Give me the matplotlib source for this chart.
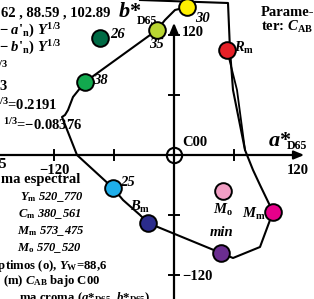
import matplotlib
matplotlib.use("Agg")
import matplotlib.pyplot as plt

plt.rcParams["mathtext.fontset"] = "custom"
plt.rcParams["mathtext.rm"] = "Liberation Serif:bold"
plt.rcParams["mathtext.it"] = "Liberation Serif:italic:bold"
plt.rcParams["mathtext.bf"] = "Liberation Serif:bold"
plt.rcParams["mathtext.default"] = "rm"

# ---- data (a*, b* CIELAB D65) ----
pt_labels = ["26", "35", "30", "R_m", "38", "25", "B_m", "min", "M_m", "M_o"]
pt_a = [-74, -17, 13, 53, -89, -61, -26, 47, 99, 49]
pt_b = [117, 125, 148, 105, 73, -33, -68, -98, -57, -36]
pt_colors = ["#006b45", "#b9d532", "#fff000", "#e62027", "#12a94e",
             "#1eaeea", "#2b2c8c", "#6b2d90", "#e6008a", "#f19ec4"]

# gamut boundary polyline
bnd_a = [-34, 54, 56, 59, 71, 79, 86, 99, 86, 59, 47, -26, -34, -51, -61,
         -97, -112, -109, -106, -101, -89, -17, -9, 1, 13]
bnd_b = [155, 152, 105, 65, 5, -15, -30, -57, -92, -103, -98, -68, -60, -45, -33,
         0, 38, 40, 45, 58, 73, 125, 135, 145, 148]
bnd2_a = [53, 63, 71]
bnd2_b = [105, 65, 5]

x_ticks = [-120, -60, 60]
y_ticks = [120, 60, -60, -120]

fig = plt.figure(figsize=(3.14, 2.99), dpi=100)
ax = fig.add_axes([0, 0, 1, 1])
ax.set_xlim(-174, 140)
ax.set_ylim(-144, 155)
ax.axis("off")

serif = ["Liberation Serif", "DejaVu Serif"]
fs = 10.5
fs2 = 9

# axes with arrows
ax.plot([-176, 126], [0, 0], color="black", lw=1.6, zorder=1)
ax.annotate("", xy=(133, 0), xytext=(120, 0),
            arrowprops=dict(arrowstyle="-|>,head_length=0.6,head_width=0.25", color="black", lw=1.6))
ax.plot([0, 0], [-146, 125], color="black", lw=1.6, zorder=1)
ax.annotate("", xy=(0, 135), xytext=(0, 120),
            arrowprops=dict(arrowstyle="-|>,head_length=0.6,head_width=0.25", color="black", lw=1.6))
for t in x_ticks:
    ax.plot([t, t], [-5, 5], color="black", lw=1.4)
for t in y_ticks:
    ax.plot([-5, 5], [t, t], color="black", lw=1.4)

# boundary lines
ax.plot(bnd_a, bnd_b, color="black", lw=1.5, zorder=2)
ax.plot(bnd2_a, bnd2_b, color="black", lw=1.3, zorder=2)

# points
for a, b, c in zip(pt_a, pt_b, pt_colors):
    ax.plot(a, b, "o", ms=12, mfc=c, mec="black", mew=1.4, zorder=5)

# C00 origin marker
ax.plot(0, 0, "o", ms=11, mfc="none", mec="black", mew=1.5, zorder=6)

bi = dict(fontfamily=serif, fontweight="bold", fontstyle="italic", fontsize=fs)
bo = dict(fontfamily=serif, fontweight="bold", fontsize=fs)

# point labels
ax.text(-64, 121, "26", ha="left", va="center", **bi)
ax.text(-25, 111, "35", ha="left", va="center", **bi)
ax.text(21, 137, "30", ha="left", va="center", **bi)
ax.text(60, 107, r"$\mathit{R}_\mathrm{m}$", ha="left", va="center", **bo)
ax.text(-81, 75, "38", ha="left", va="center", **bi)
ax.text(-54, -28, "25", ha="left", va="center", **bi)
ax.text(-44, -52, r"$\mathit{B}_\mathrm{m}$", ha="left", va="center", **bo)
ax.text(48, -78, "min", ha="center", va="center", **bi)
ax.text(80, -59, r"$\mathit{M}_\mathrm{m}$", ha="center", va="center", **bo)
ax.text(49, -55, r"$\mathit{M}_\mathrm{o}$", ha="center", va="center", **bo)

# axis labels
ax.text(8, 122, "120", ha="left", va="center", **bo)
ax.text(8, 12, "C00", ha="left", va="center", **bo)
ax.text(124, -16, "120", ha="center", va="center", **bo)
ax.text(-120, -16, "\u2212120", ha="center", va="center", **bo)
ax.text(8, -122, "\u2212120", ha="left", va="center", **bo)
ax.text(-167, -10, "\u2212185", ha="right", va="center", **bo)
ax.text(-56, 143, r"$\mathit{b}$*", ha="left", va="center", **dict(bo, fontsize=16))
ax.text(-37, 134, "D65", ha="left", va="center", **dict(bo, fontsize=8.5))
ax.text(94, 14, r"$\mathit{a}$*", ha="left", va="center", **dict(bo, fontsize=16))
ax.text(113, 9, "D65", ha="left", va="center", **dict(bo, fontsize=8.5))
ax.text(87, 143, "Parame-", ha="left", va="center", **bo)
ax.text(87, 128, r"ter: $\mathit{C}_\mathrm{AB}$", ha="left", va="center", **bo)

# left text block (right-aligned, cut at left edge)
upper_lines = [
    (110, 142, r"62 , 88.59 , 102.89"),
    (62, 124, r"$-$ $\mathit{a}$'$_\mathrm{n}$) $\mathit{Y}^\mathrm{1/3}$"),
    (62, 107, r"$-$ $\mathit{b}$'$_\mathrm{n}$) $\mathit{Y}^\mathrm{1/3}$"),
    (8, 88, r"$^\mathrm{1/3}$"),
    (7, 69, "3"),
    (57, 50, r"$^\mathrm{1/3}$=0.2191"),
    (82, 30, r"$^\mathrm{1/3}$=$-$0.08376"),
    (80, -25, "ma espectral"),
]
for x, y, s in upper_lines:
    ax.text(x - 174, y, s, ha="right", va="center", **bo)

italic_lines = [
    (84, -42, r"$\mathit{Y}_\mathrm{m}$ 520_770"),
    (82, -59, r"$\mathit{C}_\mathrm{m}$ 380_561"),
    (84, -76, r"$\mathit{M}_\mathrm{m}$ 573_475"),
    (82, -93, r"$\mathit{M}_\mathrm{o}$ 570_520"),
]
for x, y, s in italic_lines:
    ax.text(x - 174, y, s, ha="right", va="center",
            fontfamily=serif, fontweight="bold", fontstyle="italic", fontsize=fs2)

lower_lines = [
    (107, -110, "\u00d3ptimos (o), $\\mathit{Y}_\\mathrm{W}$=88,6"),
    (100, -126, r"(m) $\mathit{C}_\mathrm{AB}$ bajo C00"),
    (150, -143, r"ma croma ($\mathit{a}$*$_\mathrm{D65}$, $\mathit{b}$*$_\mathrm{D65}$)"),
]
for x, y, s in lower_lines:
    ax.text(x - 174, y, s, ha="right", va="center",
            fontfamily=serif, fontweight="bold", fontsize=fs2 + 0.2)

fig.savefig("out.png", dpi=100)
